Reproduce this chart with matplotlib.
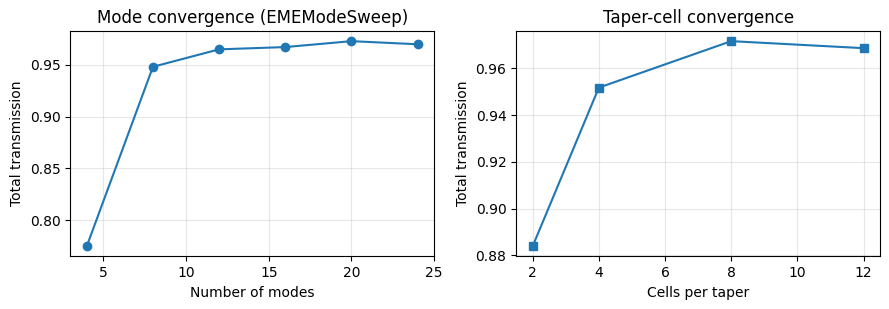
import matplotlib
matplotlib.use("Agg")
import matplotlib.pyplot as plt

# mode sweep
n_modes = [4, 8, 12, 16, 20, 24]
t_modes = [0.775, 0.948, 0.9648, 0.967, 0.9727, 0.9697]

# taper cell sweep
n_cells = [2, 4, 8, 12]
t_cells = [0.8839, 0.9518, 0.9717, 0.9687]

fig, (ax1, ax2) = plt.subplots(1, 2, figsize=(8.89, 3.09), dpi=100)

ax1.plot(n_modes, t_modes, marker='o')
ax1.set_xlabel('Number of modes')
ax1.set_ylabel('Total transmission')
ax1.set_title('Mode convergence (EMEModeSweep)')
ax1.grid(True, alpha=0.3)

ax2.plot(n_cells, t_cells, marker='s')
ax2.set_xlabel('Cells per taper')
ax2.set_ylabel('Total transmission')
ax2.set_title('Taper-cell convergence')
ax2.grid(True, alpha=0.3)

plt.subplots_adjust(left=0.079, right=0.99, bottom=0.17, top=0.9, wspace=0.225)
fig.savefig('out.png')
